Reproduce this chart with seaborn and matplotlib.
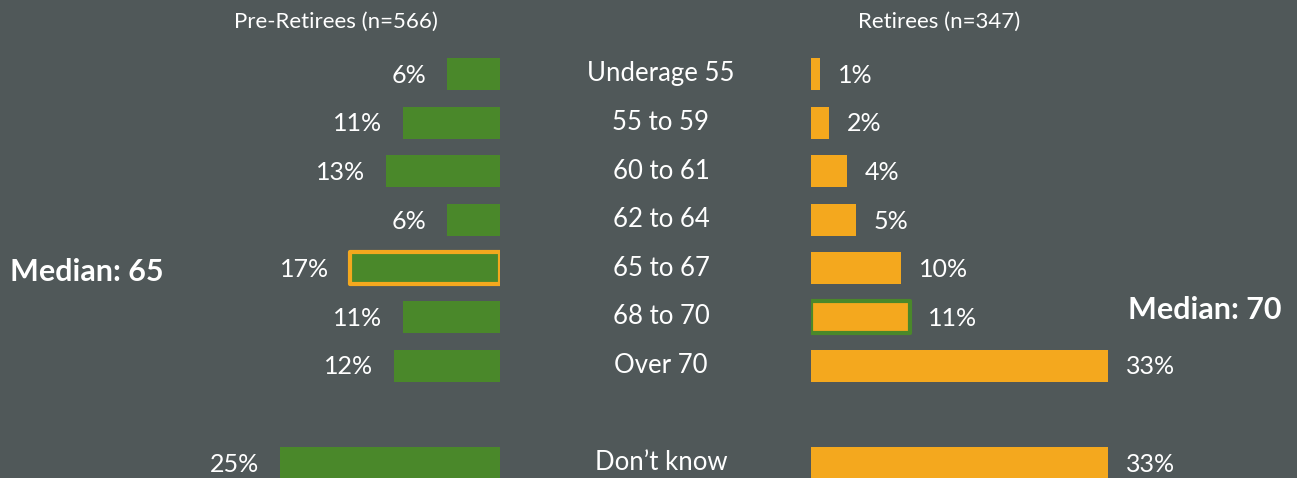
#!/usr/bin/env python3

# plot.py
#
# Retirement age expectations, pre-retirees vs retirees, as mirrored bars.
import matplotlib
matplotlib.use('Agg')
import matplotlib.pyplot as plt
import matplotlib.transforms as transforms
import pandas as pd
import seaborn as sb

# Data
AGE_GROUPS = ['Underage 55', '55 to 59', '60 to 61', '62 to 64', '65 to 67',
              '68 to 70', 'Over 70', "Don\u2019t know"]
PRE_RETIREES = [6, 11, 13, 6, 17, 11, 12, 25]
RETIREES = [1, 2, 4, 5, 10, 11, 33, 33]
PRE_TITLE = 'Pre-Retirees (n=566)'
RET_TITLE = 'Retirees (n=347)'
PRE_MEDIAN, PRE_MEDIAN_GROUP = 'Median: 65', '65 to 67'
RET_MEDIAN, RET_MEDIAN_GROUP = 'Median: 70', '68 to 70'

BACKGROUND = '#505859'
GREEN = '#4A882A'
ORANGE = '#F4A81E'
TEXT = '#FFFFFF'
FONT = 'Lato'


def draw_side(axis, values, color, edge, highlight, order, label_offset):
    data = pd.DataFrame({'age': AGE_GROUPS, 'pct': values})
    sb.barplot(data=data, x='pct', y='age', order=order, color=color, saturation=1,
               width=0.66, errorbar=None, orient='h', ax=axis)
    axis.set_facecolor('none')
    axis.set_axis_off()

    # Outline the bar holding the median
    target = order.index(highlight)
    for patch in axis.patches:
        if abs(patch.get_y() + patch.get_height() / 2 - target) < 0.1:
            patch.set_edgecolor(edge)
            patch.set_linewidth(3)
            patch.set_joinstyle('round')

    # Percent labels next to the bars
    for age, value in zip(AGE_GROUPS, values):
        axis.annotate('{}%'.format(value), (value, order.index(age)), textcoords='offset points',
                      xytext=(label_offset, -1), ha='right' if label_offset < 0 else 'left',
                      va='center', color=TEXT, fontsize=18, family=FONT)


def main():
    order = AGE_GROUPS[:7] + [' '] + AGE_GROUPS[7:]

    figure = plt.figure(figsize=(12.97, 4.78), dpi=100, facecolor=BACKGROUND)
    left = figure.add_axes([0, 0, 500 / 1297, 1])
    right = figure.add_axes([811 / 1297, 0, 486 / 1297, 1])

    draw_side(left, PRE_RETIREES, GREEN, ORANGE, PRE_MEDIAN_GROUP, order, -15)
    draw_side(right, RETIREES, ORANGE, GREEN, RET_MEDIAN_GROUP, order, 13)

    # Scale so both sides share rows and roughly 9 px per percent
    for axis in (left, right):
        axis.set_ylim(404 / 48.6, -74 / 48.6)
    left.set_xlim(500 / 8.8, 0)
    right.set_xlim(0, 486 / 9.0)

    # Category labels in the centre column
    blend = transforms.blended_transform_factory(figure.transFigure, left.transData)
    for age in AGE_GROUPS:
        figure.text(661 / 1297, order.index(age), age, transform=blend, ha='center', va='center',
                    color=TEXT, fontsize=18.5, family=FONT)

    # Headers and medians
    figure.text(336 / 1297, 1 - 22 / 478, PRE_TITLE, ha='center', va='center', color=TEXT,
                fontsize=16, family=FONT)
    figure.text(939 / 1297, 1 - 22 / 478, RET_TITLE, ha='center', va='center', color=TEXT,
                fontsize=16, family=FONT)
    figure.text(10 / 1297, 1 - 272 / 478, PRE_MEDIAN, ha='left', va='center', color=TEXT,
                fontsize=22, family=FONT, fontweight='bold')
    figure.text(1128 / 1297, 1 - 310 / 478, RET_MEDIAN, ha='left', va='center', color=TEXT,
                fontsize=22, family=FONT, fontweight='bold')

    plt.savefig('out.png', facecolor=BACKGROUND)
    plt.close()


if __name__ == '__main__':
    main()
